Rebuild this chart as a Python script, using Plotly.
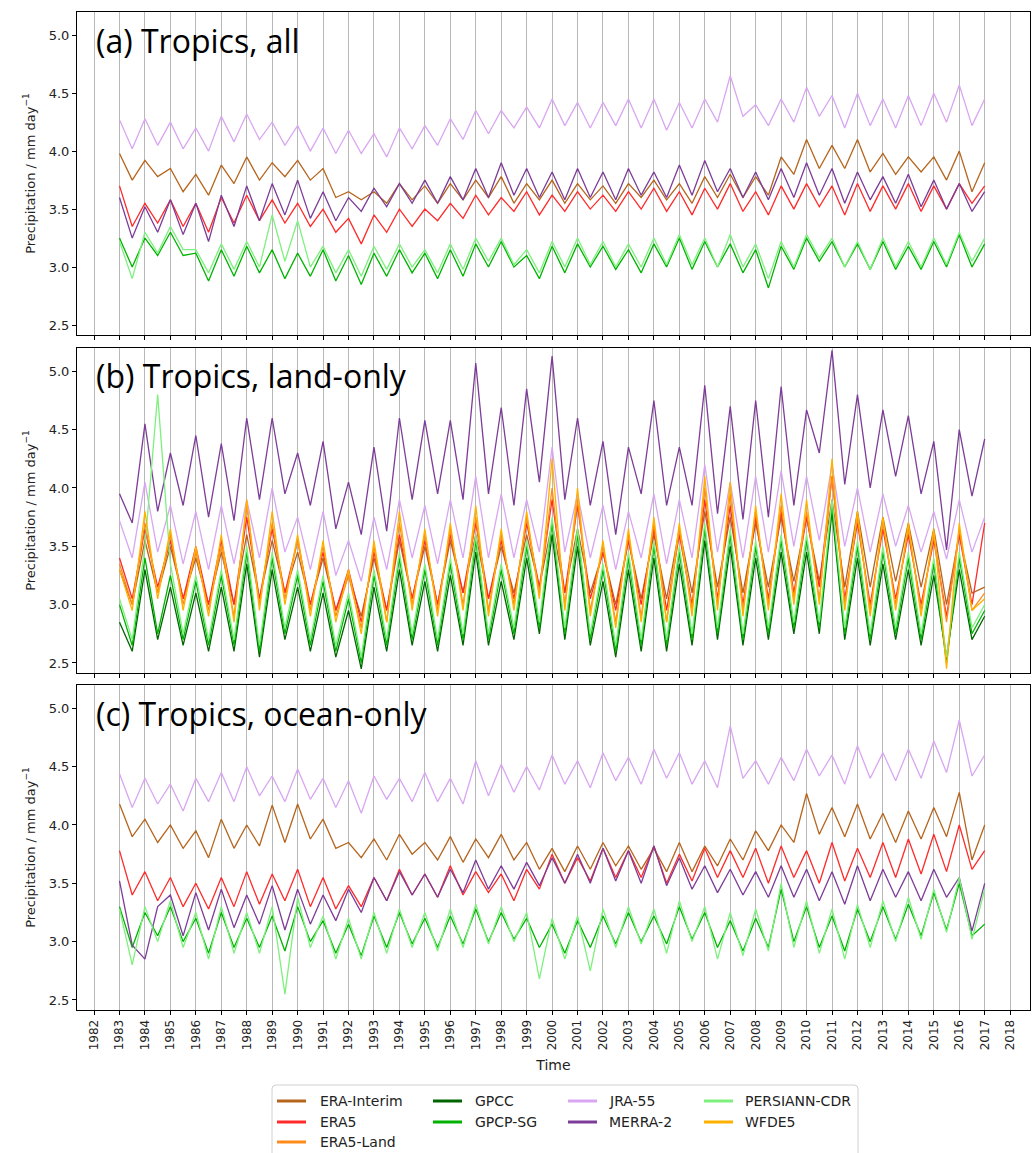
import plotly.graph_objects as go

# ---------------- data (semi-annual samples, 1983.0 ... 2017.0) ----------------
START_YEAR = 1983
STEP = 0.5

# Panel (a) Tropics, all
a_era_interim = [3.98, 3.75, 3.92, 3.78, 3.85, 3.65, 3.80, 3.62, 3.88, 3.72,
                 3.95, 3.75, 3.90, 3.78, 3.92, 3.75, 3.85, 3.60, 3.65, 3.58,
                 3.65, 3.55, 3.72, 3.58, 3.70, 3.55, 3.72, 3.58, 3.75, 3.60,
                 3.78, 3.55, 3.72, 3.58, 3.75, 3.55, 3.72, 3.58, 3.70, 3.55,
                 3.72, 3.60, 3.75, 3.58, 3.72, 3.55, 3.78, 3.60, 3.80, 3.60,
                 3.78, 3.62, 3.95, 3.80, 4.10, 3.85, 4.05, 3.85, 4.10, 3.82,
                 3.98, 3.80, 3.95, 3.82, 3.95, 3.75, 4.00, 3.65, 3.90]
a_era5 = [3.70, 3.35, 3.55, 3.38, 3.58, 3.35, 3.55, 3.30, 3.60, 3.38,
          3.62, 3.40, 3.58, 3.38, 3.55, 3.35, 3.50, 3.30, 3.42, 3.20,
          3.45, 3.30, 3.50, 3.35, 3.50, 3.40, 3.55, 3.42, 3.62, 3.45,
          3.60, 3.48, 3.65, 3.45, 3.62, 3.48, 3.65, 3.50, 3.62, 3.48,
          3.65, 3.50, 3.68, 3.48, 3.65, 3.45, 3.68, 3.50, 3.72, 3.48,
          3.65, 3.45, 3.70, 3.50, 3.72, 3.52, 3.70, 3.45, 3.72, 3.48,
          3.70, 3.50, 3.72, 3.48, 3.70, 3.50, 3.72, 3.55, 3.70]
a_gpcp_sg = [3.25, 3.00, 3.25, 3.10, 3.30, 3.10, 3.12, 2.88, 3.15, 2.92,
             3.18, 2.95, 3.15, 2.90, 3.12, 2.92, 3.15, 2.88, 3.10, 2.85,
             3.12, 2.92, 3.15, 2.95, 3.12, 2.90, 3.15, 2.92, 3.20, 3.00,
             3.22, 3.00, 3.10, 2.90, 3.18, 2.95, 3.20, 3.00, 3.18, 2.98,
             3.15, 2.95, 3.20, 3.00, 3.25, 2.98, 3.22, 3.00, 3.20, 2.95,
             3.15, 2.82, 3.18, 2.98, 3.25, 3.05, 3.22, 3.00, 3.20, 2.98,
             3.22, 2.98, 3.18, 2.98, 3.22, 3.00, 3.28, 3.00, 3.20]
a_jra55 = [4.27, 4.02, 4.28, 4.05, 4.25, 4.02, 4.20, 4.00, 4.30, 4.08,
           4.32, 4.10, 4.25, 4.05, 4.22, 4.00, 4.20, 3.98, 4.18, 3.98,
           4.15, 3.95, 4.20, 4.02, 4.22, 4.05, 4.28, 4.10, 4.35, 4.15,
           4.35, 4.20, 4.38, 4.20, 4.45, 4.22, 4.42, 4.20, 4.42, 4.22,
           4.45, 4.20, 4.45, 4.18, 4.42, 4.20, 4.45, 4.25, 4.65, 4.30,
           4.40, 4.22, 4.45, 4.25, 4.55, 4.30, 4.48, 4.20, 4.50, 4.22,
           4.45, 4.20, 4.48, 4.22, 4.50, 4.25, 4.57, 4.22, 4.45]
a_merra2 = [3.60, 3.25, 3.52, 3.30, 3.58, 3.28, 3.55, 3.22, 3.62, 3.35,
            3.70, 3.40, 3.72, 3.45, 3.75, 3.42, 3.65, 3.40, 3.60, 3.48,
            3.68, 3.52, 3.72, 3.55, 3.75, 3.55, 3.78, 3.58, 3.85, 3.60,
            3.90, 3.62, 3.85, 3.60, 3.82, 3.58, 3.85, 3.60, 3.82, 3.58,
            3.85, 3.62, 3.82, 3.60, 3.88, 3.62, 3.92, 3.65, 3.85, 3.60,
            3.82, 3.58, 3.85, 3.60, 3.90, 3.62, 3.85, 3.55, 3.82, 3.58,
            3.78, 3.55, 3.80, 3.52, 3.75, 3.50, 3.72, 3.48, 3.65]
a_persiann = [3.22, 2.90, 3.30, 3.12, 3.35, 3.15, 3.15, 2.95, 3.20, 2.98,
              3.22, 3.00, 3.45, 3.05, 3.40, 3.00, 3.18, 2.95, 3.15, 2.92,
              3.18, 2.98, 3.20, 3.00, 3.15, 2.95, 3.20, 2.98, 3.25, 3.05,
              3.25, 3.02, 3.15, 2.95, 3.22, 3.00, 3.25, 3.02, 3.22, 3.00,
              3.20, 3.00, 3.25, 3.02, 3.28, 3.02, 3.25, 3.00, 3.28, 3.00,
              3.20, 2.90, 3.22, 3.00, 3.28, 3.08, 3.25, 3.00, 3.22, 2.98,
              3.25, 3.00, 3.22, 3.00, 3.25, 3.02, 3.30, 3.05, 3.25]

# Panel (b) Tropics, land-only
b_era_interim = [3.30, 3.00, 3.55, 3.10, 3.50, 3.05, 3.40, 3.00, 3.45, 3.00,
                 3.60, 3.05, 3.55, 3.10, 3.45, 3.00, 3.40, 2.95, 3.25, 2.90,
                 3.40, 2.95, 3.55, 3.05, 3.50, 3.00, 3.55, 3.10, 3.60, 3.05,
                 3.50, 3.10, 3.60, 3.15, 3.70, 3.10, 3.65, 3.10, 3.45, 3.00,
                 3.55, 3.05, 3.60, 3.05, 3.65, 3.10, 3.80, 3.15, 3.75, 3.10,
                 3.70, 3.15, 3.75, 3.20, 3.75, 3.20, 3.90, 3.15, 3.80, 3.15,
                 3.75, 3.20, 3.70, 3.15, 3.65, 3.00, 3.60, 3.10, 3.15]
b_era5 = [3.40, 3.05, 3.65, 3.15, 3.55, 3.05, 3.50, 3.00, 3.55, 3.00,
          3.75, 3.05, 3.65, 3.10, 3.55, 3.00, 3.45, 2.95, 3.30, 2.85,
          3.45, 2.95, 3.60, 3.05, 3.55, 3.00, 3.60, 3.10, 3.70, 3.05,
          3.55, 3.05, 3.70, 3.15, 3.90, 3.10, 3.85, 3.05, 3.45, 2.95,
          3.55, 3.00, 3.65, 2.95, 3.60, 3.00, 3.90, 3.05, 3.85, 3.00,
          3.75, 3.05, 3.80, 3.10, 3.75, 3.15, 4.10, 3.05, 3.70, 3.00,
          3.65, 3.05, 3.60, 3.00, 3.55, 2.90, 3.60, 3.00, 3.70]
b_era5_land = [3.35, 3.00, 3.70, 3.10, 3.60, 3.00, 3.45, 2.95, 3.50, 2.90,
               3.85, 3.00, 3.70, 3.05, 3.55, 2.95, 3.50, 2.90, 3.25, 2.80,
               3.50, 2.85, 3.70, 3.00, 3.60, 2.95, 3.65, 3.00, 3.75, 2.95,
               3.60, 3.00, 3.75, 3.10, 4.00, 3.00, 3.90, 2.95, 3.50, 2.85,
               3.60, 2.90, 3.70, 2.85, 3.65, 2.95, 4.00, 3.00, 3.95, 2.95,
               3.80, 3.00, 3.85, 3.05, 3.80, 3.05, 4.10, 3.00, 3.75, 2.95,
               3.70, 3.00, 3.65, 2.95, 3.60, 2.85, 3.65, 2.95, 3.10]
b_gpcc = [2.85, 2.60, 3.30, 2.70, 3.15, 2.65, 3.10, 2.60, 3.15, 2.60,
          3.35, 2.55, 3.30, 2.70, 3.15, 2.60, 3.10, 2.55, 2.95, 2.45,
          3.15, 2.60, 3.30, 2.65, 3.20, 2.60, 3.25, 2.65, 3.45, 2.65,
          3.20, 2.70, 3.40, 2.75, 3.60, 2.70, 3.50, 2.65, 3.20, 2.55,
          3.30, 2.60, 3.40, 2.60, 3.35, 2.65, 3.55, 2.70, 3.50, 2.65,
          3.40, 2.70, 3.45, 2.75, 3.45, 2.75, 3.80, 2.70, 3.40, 2.65,
          3.35, 2.70, 3.30, 2.65, 3.25, 2.55, 3.30, 2.70, 2.90]
b_gpcp_sg = [3.00, 2.65, 3.40, 2.75, 3.25, 2.70, 3.20, 2.65, 3.25, 2.65,
             3.45, 2.60, 3.40, 2.75, 3.25, 2.65, 3.20, 2.60, 3.05, 2.50,
             3.25, 2.65, 3.40, 2.70, 3.30, 2.65, 3.35, 2.70, 3.55, 2.70,
             3.30, 2.75, 3.50, 2.80, 3.70, 2.75, 3.60, 2.70, 3.30, 2.60,
             3.40, 2.65, 3.50, 2.65, 3.45, 2.70, 3.65, 2.75, 3.60, 2.70,
             3.50, 2.75, 3.55, 2.80, 3.55, 2.80, 3.85, 2.75, 3.50, 2.70,
             3.45, 2.75, 3.40, 2.70, 3.35, 2.50, 3.40, 2.75, 2.95]
b_jra55 = [3.72, 3.40, 4.05, 3.45, 3.85, 3.35, 3.80, 3.30, 3.85, 3.35,
           3.90, 3.40, 4.00, 3.45, 3.75, 3.30, 3.80, 3.25, 3.55, 3.20,
           3.75, 3.30, 3.90, 3.40, 3.85, 3.35, 3.90, 3.40, 4.10, 3.40,
           3.95, 3.40, 3.90, 3.45, 4.35, 3.45, 3.95, 3.40, 3.85, 3.30,
           3.80, 3.40, 3.95, 3.35, 3.90, 3.40, 4.20, 3.45, 4.05, 3.40,
           4.10, 3.45, 4.15, 3.50, 4.10, 3.55, 4.20, 3.50, 4.00, 3.45,
           3.95, 3.50, 3.85, 3.45, 3.80, 3.39, 3.90, 3.45, 3.75]
b_merra2 = [3.95, 3.70, 4.55, 3.80, 4.30, 3.85, 4.45, 3.75, 4.38, 3.72,
            4.60, 3.90, 4.60, 3.95, 4.30, 3.85, 4.40, 3.65, 4.05, 3.60,
            4.35, 3.63, 4.60, 3.90, 4.58, 3.95, 4.58, 3.90, 5.07, 3.95,
            4.69, 3.85, 4.85, 4.05, 5.13, 3.90, 4.60, 3.85, 4.40, 3.60,
            4.35, 3.95, 4.75, 3.85, 4.35, 3.85, 4.88, 3.78, 4.70, 3.73,
            4.75, 3.75, 4.87, 3.85, 4.67, 4.30, 5.18, 4.03, 4.80, 4.00,
            4.67, 4.10, 4.62, 3.95, 4.40, 3.47, 4.50, 3.93, 4.42]
b_persiann = [3.05, 2.70, 3.50, 4.80, 3.35, 2.75, 3.25, 2.70, 3.30, 2.70,
              3.50, 2.65, 3.45, 2.80, 3.30, 2.70, 3.25, 2.65, 3.10, 2.55,
              3.30, 2.70, 3.45, 2.75, 3.35, 2.70, 3.40, 2.75, 3.60, 2.75,
              3.35, 2.80, 3.55, 2.85, 3.75, 2.80, 3.65, 2.75, 3.35, 2.65,
              3.45, 2.70, 3.55, 2.70, 3.50, 2.75, 3.70, 2.80, 3.65, 2.75,
              3.55, 2.80, 3.60, 2.85, 3.60, 2.85, 3.90, 2.80, 3.55, 2.75,
              3.50, 2.80, 3.45, 2.75, 3.40, 2.55, 3.45, 2.80, 3.00]
b_wfde5 = [3.30, 2.95, 3.80, 3.05, 3.65, 2.95, 3.50, 2.90, 3.60, 2.85,
           3.90, 2.95, 3.80, 3.00, 3.60, 2.90, 3.55, 2.85, 3.30, 2.75,
           3.55, 2.85, 3.80, 2.95, 3.65, 2.90, 3.70, 2.95, 3.85, 2.90,
           3.65, 2.95, 3.80, 3.05, 4.25, 2.95, 4.00, 2.90, 3.55, 2.80,
           3.65, 2.85, 3.75, 2.85, 3.70, 2.90, 4.10, 2.95, 4.05, 2.90,
           3.85, 2.95, 3.95, 3.00, 3.90, 3.00, 4.25, 2.95, 3.80, 2.90,
           3.75, 2.95, 3.70, 2.90, 3.65, 2.45, 3.70, 2.95, 3.05]

# Panel (c) Tropics, ocean-only
c_era_interim = [4.18, 3.90, 4.05, 3.85, 4.00, 3.80, 3.95, 3.72, 4.05, 3.80,
                 4.00, 3.82, 4.17, 3.85, 4.18, 3.88, 4.05, 3.80, 3.85, 3.72,
                 3.88, 3.70, 3.92, 3.75, 3.85, 3.70, 3.90, 3.68, 3.88, 3.72,
                 3.92, 3.70, 3.85, 3.62, 3.80, 3.60, 3.82, 3.62, 3.85, 3.65,
                 3.82, 3.62, 3.80, 3.60, 3.85, 3.60, 3.82, 3.65, 3.88, 3.70,
                 3.95, 3.78, 4.00, 3.85, 4.27, 3.92, 4.15, 3.90, 4.18, 3.88,
                 4.10, 3.85, 4.12, 3.88, 4.15, 3.90, 4.28, 3.70, 4.00]
c_era5 = [3.78, 3.40, 3.60, 3.35, 3.55, 3.30, 3.50, 3.28, 3.55, 3.30,
          3.60, 3.32, 3.58, 3.35, 3.62, 3.30, 3.55, 3.28, 3.48, 3.30,
          3.55, 3.35, 3.62, 3.40, 3.58, 3.38, 3.65, 3.40, 3.60, 3.42,
          3.58, 3.35, 3.62, 3.45, 3.75, 3.50, 3.72, 3.52, 3.80, 3.55,
          3.78, 3.55, 3.82, 3.50, 3.75, 3.52, 3.80, 3.55, 3.78, 3.55,
          3.80, 3.50, 3.82, 3.55, 3.78, 3.50, 3.85, 3.52, 3.80, 3.55,
          3.85, 3.55, 3.88, 3.58, 3.92, 3.60, 4.00, 3.62, 3.78]
c_gpcp_sg = [3.30, 2.95, 3.25, 3.05, 3.30, 3.00, 3.20, 2.90, 3.25, 2.95,
             3.20, 2.95, 3.22, 2.92, 3.30, 3.00, 3.18, 2.90, 3.15, 2.88,
             3.22, 2.95, 3.25, 2.98, 3.20, 2.95, 3.22, 2.98, 3.28, 3.00,
             3.25, 3.02, 3.20, 2.95, 3.15, 2.90, 3.18, 2.95, 3.22, 2.98,
             3.25, 3.00, 3.22, 2.98, 3.30, 3.02, 3.25, 2.95, 3.18, 2.92,
             3.20, 2.95, 3.45, 3.00, 3.30, 2.95, 3.22, 2.92, 3.28, 3.00,
             3.30, 3.02, 3.32, 3.05, 3.42, 3.10, 3.50, 3.05, 3.15]
c_jra55 = [4.44, 4.15, 4.40, 4.18, 4.35, 4.12, 4.40, 4.20, 4.45, 4.20,
           4.50, 4.25, 4.42, 4.20, 4.48, 4.22, 4.40, 4.15, 4.38, 4.10,
           4.42, 4.22, 4.40, 4.20, 4.45, 4.20, 4.40, 4.18, 4.55, 4.25,
           4.52, 4.28, 4.50, 4.30, 4.60, 4.35, 4.55, 4.32, 4.62, 4.38,
           4.58, 4.35, 4.65, 4.40, 4.62, 4.35, 4.55, 4.32, 4.85, 4.40,
           4.55, 4.35, 4.58, 4.38, 4.65, 4.42, 4.60, 4.35, 4.68, 4.40,
           4.62, 4.38, 4.65, 4.40, 4.72, 4.45, 4.90, 4.42, 4.60]
c_merra2 = [3.52, 2.97, 2.85, 3.30, 3.40, 3.05, 3.42, 3.10, 3.45, 3.12,
            3.40, 3.15, 3.48, 3.10, 3.45, 3.15, 3.40, 3.18, 3.45, 3.25,
            3.55, 3.35, 3.60, 3.40, 3.58, 3.38, 3.62, 3.42, 3.70, 3.45,
            3.65, 3.45, 3.68, 3.48, 3.72, 3.50, 3.75, 3.50, 3.80, 3.52,
            3.78, 3.50, 3.82, 3.48, 3.72, 3.45, 3.65, 3.42, 3.62, 3.40,
            3.60, 3.38, 3.65, 3.38, 3.62, 3.35, 3.60, 3.32, 3.65, 3.35,
            3.62, 3.38, 3.60, 3.35, 3.62, 3.38, 3.55, 3.09, 3.50]
c_persiann = [3.28, 2.80, 3.30, 3.00, 3.35, 2.95, 3.25, 2.85, 3.30, 2.90,
              3.25, 2.90, 3.30, 2.55, 3.38, 2.95, 3.22, 2.85, 3.20, 2.85,
              3.25, 2.90, 3.28, 2.95, 3.25, 2.92, 3.28, 2.95, 3.32, 2.98,
              3.30, 3.00, 3.25, 2.68, 3.20, 2.85, 3.22, 2.75, 3.28, 2.95,
              3.30, 2.98, 3.28, 2.90, 3.35, 3.00, 3.30, 2.85, 3.25, 2.88,
              3.28, 2.92, 3.50, 2.95, 3.35, 2.90, 3.28, 2.85, 3.32, 2.95,
              3.35, 3.00, 3.38, 3.02, 3.45, 3.08, 3.55, 3.02, 3.45]

year_ticks = list(range(1982, 2019))
y_ticks = [2.5, 3.0, 3.5, 4.0, 4.5, 5.0]
panel_titles = ["(a) Tropics, all", "(b) Tropics, land-only", "(c) Tropics, ocean-only"]

series_names = ["ERA-Interim", "ERA5", "ERA5-Land", "GPCC", "GPCP-SG",
                "JRA-55", "MERRA-2", "PERSIANN-CDR", "WFDE5"]
colors = {
    "ERA-Interim": "#b5651d",
    "ERA5": "#ff2a2a",
    "ERA5-Land": "#ff8c1a",
    "GPCC": "#006400",
    "GPCP-SG": "#00b300",
    "JRA-55": "#d9a6f2",
    "MERRA-2": "#7d3c98",
    "PERSIANN-CDR": "#7ef07e",
    "WFDE5": "#ffb000",
}

panels = [
    {"ERA-Interim": a_era_interim, "ERA5": a_era5, "GPCP-SG": a_gpcp_sg,
     "JRA-55": a_jra55, "MERRA-2": a_merra2, "PERSIANN-CDR": a_persiann},
    {"ERA-Interim": b_era_interim, "ERA5": b_era5, "ERA5-Land": b_era5_land,
     "GPCC": b_gpcc, "GPCP-SG": b_gpcp_sg, "JRA-55": b_jra55,
     "MERRA-2": b_merra2, "PERSIANN-CDR": b_persiann, "WFDE5": b_wfde5},
    {"ERA-Interim": c_era_interim, "ERA5": c_era5, "GPCP-SG": c_gpcp_sg,
     "JRA-55": c_jra55, "MERRA-2": c_merra2, "PERSIANN-CDR": c_persiann},
]

# legend layout: matplotlib-style 4 columns (column-major order)
legend_columns = [["ERA-Interim", "ERA5", "ERA5-Land"],
                  ["GPCC", "GPCP-SG"],
                  ["JRA-55", "MERRA-2"],
                  ["PERSIANN-CDR", "WFDE5"]]

# ---------------- figure ----------------
W, H = 1035, 1153
M_L, M_R, M_T, M_B = 77, 5, 12, 143
PW = W - M_L - M_R
PH = H - M_T - M_B


def px2x(px):
    return (px - M_L) / PW


def py2y(py):
    return (H - M_B - py) / PH


domains = [
    [py2y(335), py2y(12)],
    [py2y(673), py2y(348)],
    [py2y(1010), py2y(685)],
]

fig = go.Figure()

for p, data in enumerate(panels):
    xa = "x" if p == 0 else f"x{p + 1}"
    ya = "y" if p == 0 else f"y{p + 1}"
    for name in series_names:
        if name not in data:
            continue
        vals = data[name]
        xs = [START_YEAR + STEP * i for i in range(len(vals))]
        fig.add_trace(go.Scatter(
            x=xs, y=vals, mode="lines", name=name,
            line=dict(color=colors[name], width=1.3),
            xaxis=xa, yaxis=ya, showlegend=False,
            hovertemplate=name + ": %{y:.2f}<extra></extra>",
        ))

axis_common = dict(
    showline=True, linecolor="black", linewidth=1, mirror=True,
    ticks="outside", ticklen=4, tickcolor="black", tickwidth=1,
    zeroline=False,
)

layout = dict(
    width=W, height=H,
    margin=dict(l=M_L, r=M_R, t=M_T, b=M_B, autoexpand=False),
    paper_bgcolor="white", plot_bgcolor="white",
    font=dict(family="DejaVu Sans", size=13, color="#222"),
    showlegend=False,
)

for p in range(3):
    xkey = "xaxis" if p == 0 else f"xaxis{p + 1}"
    ykey = "yaxis" if p == 0 else f"yaxis{p + 1}"
    ya = "y" if p == 0 else f"y{p + 1}"
    xa = "x" if p == 0 else f"x{p + 1}"
    xcfg = dict(axis_common)
    xcfg.update(
        domain=[0, 1], anchor=ya, range=[1981.33, 2018.78],
        tickmode="array", tickvals=year_ticks,
        ticktext=[str(y) for y in year_ticks],
        showgrid=True, gridcolor="#b8b8b8", gridwidth=1,
        showticklabels=(p == 2), tickangle=-90,
        tickfont=dict(family="DejaVu Sans", size=12, color="#222"),
    )
    if p > 0:
        xcfg["matches"] = "x"
    if p == 2:
        xcfg["title"] = dict(text="Time", font=dict(family="DejaVu Sans", size=14, color="#222"), standoff=10)
    layout[xkey] = xcfg
    ycfg = dict(axis_common)
    ycfg.update(
        domain=domains[p], anchor=xa, range=[2.414, 5.2],
        tickmode="array", tickvals=y_ticks,
        ticktext=[f"{v:.1f}" for v in y_ticks],
        showgrid=False, tickfont=dict(family="DejaVu Sans", size=13, color="#222"),
        title=dict(text="Precipitation / mm day<sup>\u22121</sup>",
                   font=dict(family="DejaVu Sans", size=13, color="#222"), standoff=10),
    )
    layout[ykey] = ycfg

fig.update_layout(**layout)

# panel labels
label_centers = [40, 375, 713]
for p, txt in enumerate(panel_titles):
    fig.add_annotation(
        text=txt, xref="paper", yref="paper",
        x=px2x(94), y=py2y(label_centers[p]),
        xanchor="left", yanchor="middle", showarrow=False,
        font=dict(family="Open Sans", size=32, color="black"),
    )

# legend box (drawn like matplotlib's rounded frame)
bx0, bx1, by0, by1 = 272, 858, 1085, 1165
r = 4
x0, x1 = px2x(bx0), px2x(bx1)
y0, y1 = py2y(by0), py2y(by1)
rx, ry = r / PW, r / PH
path = (f"M {x0 + rx},{y0} L {x1 - rx},{y0} Q {x1},{y0} {x1},{y0 - ry} "
        f"L {x1},{y1 + ry} Q {x1},{y1} {x1 - rx},{y1} L {x0 + rx},{y1} "
        f"Q {x0},{y1} {x0},{y1 + ry} L {x0},{y0 - ry} Q {x0},{y0} {x0 + rx},{y0} Z")
fig.add_shape(type="path", path=path, xref="paper", yref="paper",
              line=dict(color="#d0d0d0", width=1), fillcolor="white", layer="above")

col_line_x = [277, 433, 568, 704]
col_text_x = [318, 473, 607, 743]
row_y = [1101, 1122, 1142]
for c, col in enumerate(legend_columns):
    for rrow, name in enumerate(col):
        yy = py2y(row_y[rrow])
        fig.add_shape(type="line", xref="paper", yref="paper",
                      x0=px2x(col_line_x[c]), x1=px2x(col_line_x[c] + 29),
                      y0=yy, y1=yy, line=dict(color=colors[name], width=3),
                      layer="above")
        fig.add_annotation(text=name, xref="paper", yref="paper",
                           x=px2x(col_text_x[c]), y=yy, xanchor="left",
                           yanchor="middle", showarrow=False,
                           font=dict(family="DejaVu Sans", size=14, color="#222"))

fig.write_html("out.html")
